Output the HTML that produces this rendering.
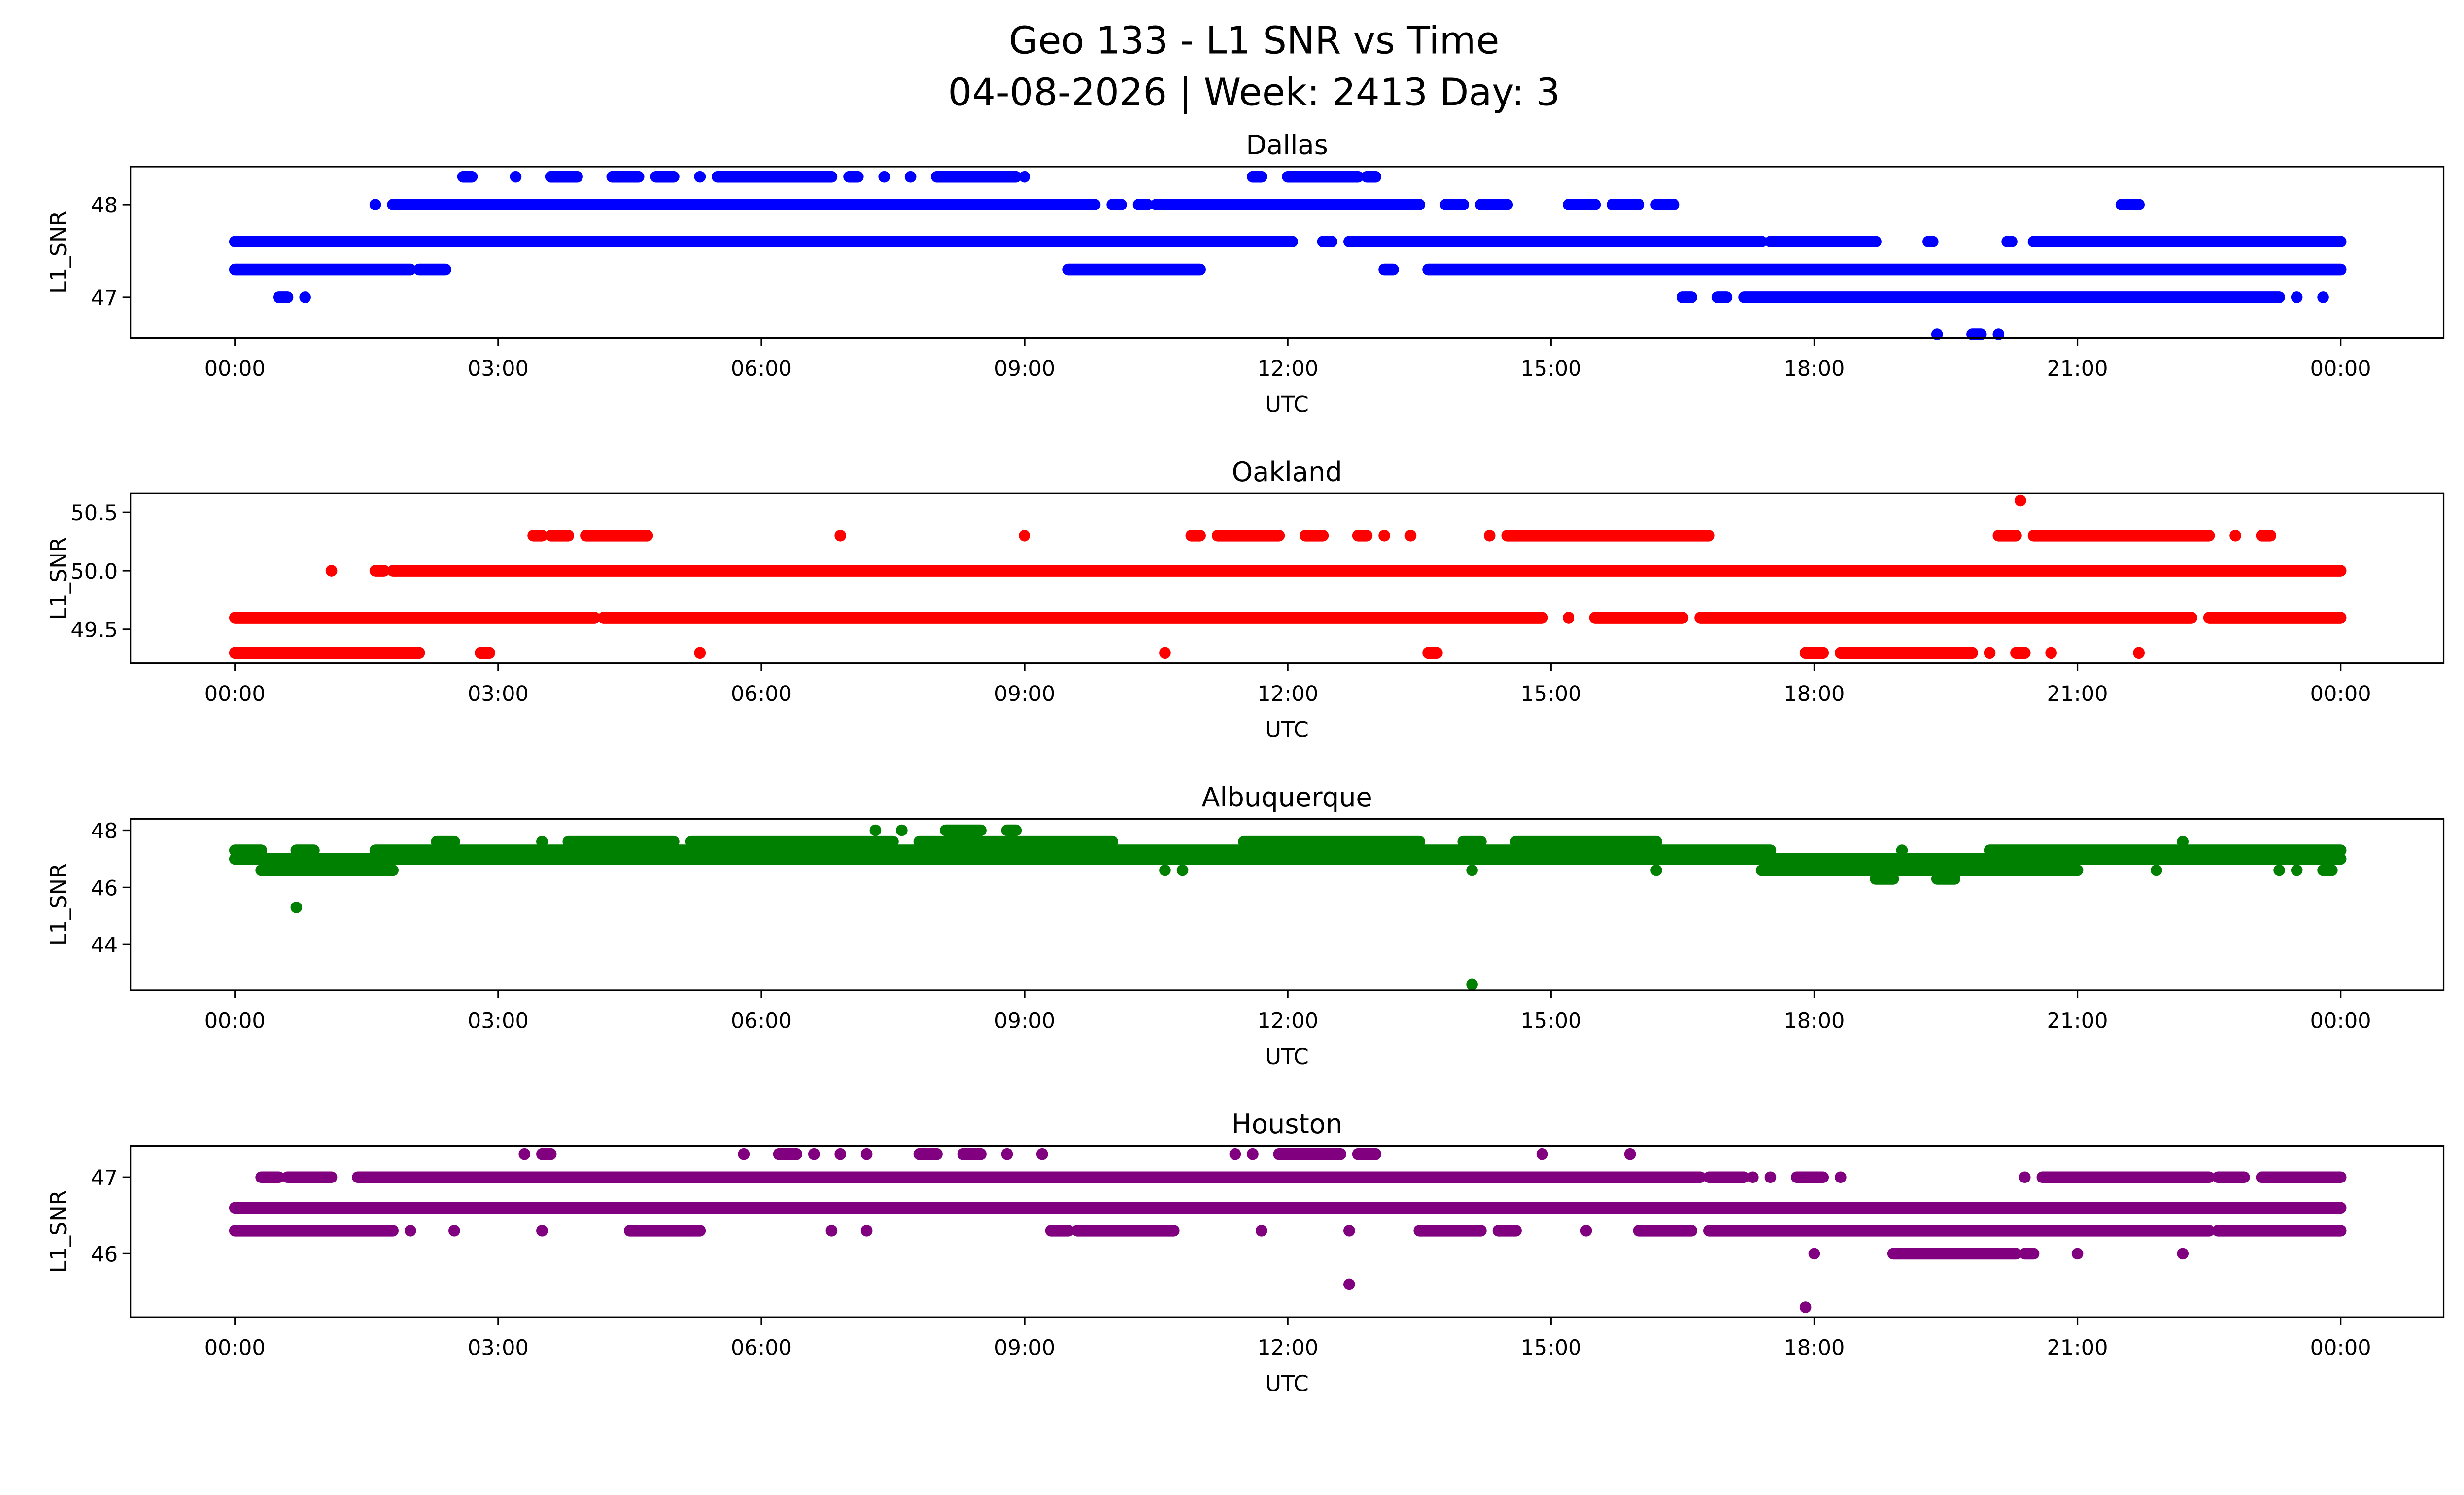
<!DOCTYPE html>
<html><head><meta charset="utf-8">
<style>
html,body{margin:0;padding:0;background:#fff;overflow:hidden;width:100vw;height:100vh;}
svg{display:block;width:100vw;height:100vh;font-family:"DejaVu Sans","Liberation Sans",sans-serif;}
</style></head>
<body>
<svg id="fig" viewBox="0 0 1568 901" preserveAspectRatio="xMidYMin meet" xmlns="http://www.w3.org/2000/svg">
<rect width="1568" height="901" fill="#fff"/>
<text x="798" y="34" font-size="24" text-anchor="middle">Geo 133 - L1 SNR vs Time</text>
<text x="798" y="67" font-size="24" text-anchor="middle">04-08-2026 | Week: 2413 Day: 3</text>
<g id="plots"></g>
</svg>
<script>
// shared x ticks (hours)
const xTickHours = [0,3,6,9,12,15,18,21,24];
const xTickLabels = ["00:00","03:00","06:00","09:00","12:00","15:00","18:00","21:00","00:00"];

// Dallas: [level, segments [start,end] in hours]
const dallasTicks = [47, 48];
const dallasData = [
 [47.6, [[0,12.05],[12.4,12.5],[12.7,17.4],[17.5,18.7],[19.3,19.35],[20.2,20.25],[20.5,24]]],
 [47.3, [[0,2.0],[2.1,2.4],[9.5,11.0],[13.1,13.2],[13.6,24]]],
 [48.0, [[1.6,1.6],[1.8,9.8],[10.0,10.1],[10.3,10.4],[10.5,13.5],[13.8,14.0],[14.2,14.5],[15.2,15.5],[15.7,16.0],[16.2,16.4],[21.5,21.7]]],
 [48.3, [[2.6,2.7],[3.2,3.2],[3.6,3.9],[4.3,4.6],[4.8,5.0],[5.3,5.3],[5.5,6.8],[7.0,7.1],[7.4,7.4],[7.7,7.7],[8.0,8.9],[9.0,9.0],[11.6,11.7],[12.0,12.8],[12.9,13.0]]],
 [47.0, [[0.5,0.6],[0.8,0.8],[16.5,16.6],[16.9,17.0],[17.2,23.3],[23.5,23.5],[23.8,23.8]]],
 [46.6, [[19.4,19.4],[19.8,19.9],[20.1,20.1]]]
];
const oaklandTicks = [49.5, 50.0, 50.5];
const oaklandTickLabels = ["49.5","50.0","50.5"];
const oaklandData = [
 [50.0, [[1.1,1.1],[1.6,1.7],[1.8,24]]],
 [49.6, [[0,4.1],[4.2,14.9],[15.2,15.2],[15.5,16.5],[16.7,22.3],[22.5,24]]],
 [49.3, [[0,2.1],[2.8,2.9],[5.3,5.3],[10.6,10.6],[13.6,13.7],[17.9,18.1],[18.3,19.8],[20.0,20.0],[20.3,20.4],[20.7,20.7],[21.7,21.7]]],
 [50.3, [[3.4,3.5],[3.6,3.8],[4.0,4.7],[6.9,6.9],[9.0,9.0],[10.9,11.0],[11.2,11.9],[12.2,12.4],[12.8,12.9],[13.1,13.1],[13.4,13.4],[14.3,14.3],[14.5,16.8],[20.1,20.3],[20.5,22.5],[22.8,22.8],[23.1,23.2]]],
 [50.6, [[20.35,20.35]]]
];
const albqTicks = [44, 46, 48];
const albqData = [
 [47.0, [[0,24]]],
 [47.3, [[0,0.3],[0.7,0.9],[1.6,17.5],[19.0,19.0],[20.0,24]]],
 [47.6, [[2.3,2.5],[3.5,3.5],[3.8,5.0],[5.2,7.5],[7.8,10.0],[11.5,13.5],[14.0,14.2],[14.6,16.2],[22.2,22.2]]],
 [46.6, [[0.3,1.8],[10.6,10.6],[10.8,10.8],[14.1,14.1],[16.2,16.2],[17.4,21.0],[21.9,21.9],[23.3,23.3],[23.5,23.5],[23.8,23.9]]],
 [46.3, [[18.7,18.9],[19.4,19.6]]],
 [48.0, [[7.3,7.3],[7.6,7.6],[8.1,8.5],[8.8,8.9]]],
 [45.3, [[0.7,0.7]]],
 [42.6, [[14.1,14.1]]]
];
const houstonTicks = [46, 47];
const houstonData = [
 [46.6, [[0,24]]],
 [47.0, [[0.3,0.5],[0.6,1.1],[1.4,16.7],[16.8,17.2],[17.3,17.3],[17.5,17.5],[17.8,18.1],[18.3,18.3],[20.4,20.4],[20.6,22.5],[22.6,22.9],[23.1,24]]],
 [46.3, [[0,1.8],[2.0,2.0],[2.5,2.5],[3.5,3.5],[4.5,5.3],[6.8,6.8],[7.2,7.2],[9.3,9.5],[9.6,10.7],[11.7,11.7],[12.7,12.7],[13.5,14.2],[14.4,14.6],[15.4,15.4],[16.0,16.6],[16.8,22.5],[22.6,24]]],
 [47.3, [[3.3,3.3],[3.5,3.6],[5.8,5.8],[6.2,6.4],[6.6,6.6],[6.9,6.9],[7.2,7.2],[7.8,8.0],[8.3,8.5],[8.8,8.8],[9.2,9.2],[11.4,11.4],[11.6,11.6],[11.9,12.6],[12.8,13.0],[14.9,14.9],[15.9,15.9]]],
 [46.0, [[18.0,18.0],[18.9,20.3],[20.4,20.5],[21.0,21.0],[22.2,22.2]]],
 [45.6, [[12.7,12.7]]],
 [45.3, [[17.9,17.9]]]
];

const NS = "http://www.w3.org/2000/svg";
const root = document.getElementById('plots');
const X0 = 83, X1 = 1555, H0 = 149.5, H24 = 1489.5;
function xs(h){ return H0 + (h/24)*(H24-H0); }
function mk(tag, attrs, parent){ const e=document.createElementNS(NS,tag); for(const k in attrs) e.setAttribute(k,attrs[k]); parent.appendChild(e); return e; }

const panels = [
 {name:"dallas", title:"Dallas", top:106, bot:215, ymin:46.56, ymax:48.41, color:"#0000ff", ticks:dallasTicks, labels:dallasTicks.map(String), data:dallasData},
 {name:"oakland", title:"Oakland", top:314, bot:422, ymin:49.21, ymax:50.66, color:"#ff0000", ticks:oaklandTicks, labels:oaklandTickLabels, data:oaklandData},
 {name:"albuquerque", title:"Albuquerque", top:521, bot:630, ymin:42.4, ymax:48.4, color:"#008000", ticks:albqTicks, labels:albqTicks.map(String), data:albqData},
 {name:"houston", title:"Houston", top:729, bot:838, ymin:45.17, ymax:47.41, color:"#800080", ticks:houstonTicks, labels:houstonTicks.map(String), data:houstonData}
];

panels.forEach(p=>{
  const g = mk('g',{},root);
  
  
  const ys = v => p.bot - (v-p.ymin)/(p.ymax-p.ymin)*(p.bot-p.top);
  const t = mk('text',{x:(X0+X1)/2, y:p.top-8, 'font-size':17, 'text-anchor':'middle'},g);
  t.textContent = p.title;
  
  
  const dg = mk('g',{},g);
  
  
  p.data.forEach(([lvl, segs])=>{
    segs.forEach(([a,b])=>{
      const l = mk('line',{x1:xs(a), x2:xs(b), y1:ys(lvl), y2:ys(lvl), stroke:p.color, 'stroke-width':7.4, 'stroke-linecap':'round'},dg);
      
      
    });
  });
  const fr = mk('rect',{x:X0, y:p.top, width:X1-X0, height:p.bot-p.top, fill:'none', stroke:'#000', 'stroke-width':1},g);
  
  
  xTickHours.forEach((h,i)=>{
    mk('line',{x1:xs(h), x2:xs(h), y1:p.bot, y2:p.bot+5, stroke:'#000','stroke-width':1},g);
    const tl = mk('text',{x:xs(h), y:p.bot+24, 'font-size':13.5, 'text-anchor':'middle'},g);
    tl.textContent = xTickLabels[i];
    
    
  });
  const xl = mk('text',{x:(X0+X1)/2, y:p.bot+47, 'font-size':14, 'text-anchor':'middle'},g);
  xl.textContent = "UTC";
  
  
  p.ticks.forEach((v,i)=>{
    mk('line',{x1:X0-5, x2:X0, y1:ys(v), y2:ys(v), stroke:'#000','stroke-width':1},g);
    const yl = mk('text',{x:X0-8, y:ys(v)+5, 'font-size':13.5, 'text-anchor':'end'},g);
    yl.textContent = p.labels[i];
    
    
  });
  const cy = (p.top+p.bot)/2;
  const ya = mk('text',{x:0, y:0, 'font-size':14, 'text-anchor':'middle', transform:`translate(42,${cy}) rotate(-90)`},g);
  ya.textContent = "L1_SNR";
  
  
});
</script>
</body></html>
